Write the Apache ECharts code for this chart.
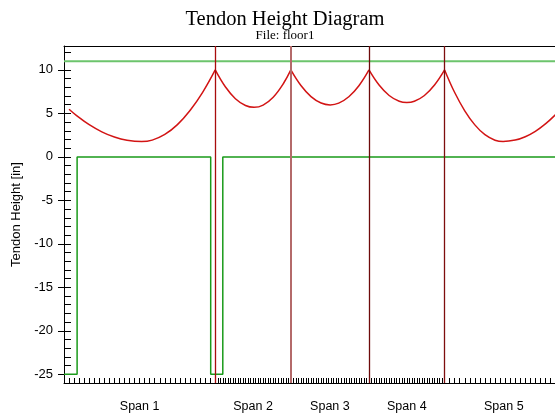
<!DOCTYPE html>
<html>
<head>
<meta charset="utf-8">
<title>Tendon Height Diagram</title>
<script src="https://cdn.jsdelivr.net/npm/echarts@6/dist/echarts.min.js"></script>
<style>
html, body { margin: 0; padding: 0; background: #fff; }
#tendon_chart_content { width: 555px; height: 415px; }
</style>
</head>
<body>
<div id="tendon_chart_content"></div>
<script>
// span ends along the slab [ft]; the plot is cut at x_view_max
var span_ends = [30, 45, 60.5, 75.5, 99];
var span_names = ["Span 1", "Span 2", "Span 3", "Span 4", "Span 5"];
var tick_steps = [1, 0.5, 0.5, 0.5, 1];
var x_view_max = 97.4;
var y_ticks = [-25, -20, -15, -10, -5, 0, 5, 10];

// tendon profile [ft, in]
var tendon_x = [1, 2.5, 5, 7.5, 10, 12.5, 15.4, 17.5, 20, 22.5, 25, 27.5, 30,
    32, 34, 36, 37.7, 39.5, 41.5, 43.5, 45,
    47, 49, 51, 52.8, 54.5, 56.5, 58.5, 60.5,
    62.5, 64.5, 66.5, 68, 69.5, 71.5, 73.5, 75.5,
    77.5, 79.5, 81.5, 83.5, 85.5, 87.1, 89.5, 91.5, 93.5, 95.5, 97.5, 98];
var tendon_y = [5.48, 4.75, 3.70, 2.88, 2.28, 1.91, 1.76, 1.93, 2.58, 3.71, 5.33, 7.42, 10,
    8.06, 6.69, 5.91, 5.70, 5.96, 6.86, 8.41, 10,
    8.20, 6.93, 6.19, 5.98, 6.18, 6.91, 8.18, 10,
    8.26, 7.06, 6.39, 6.24, 6.39, 7.06, 8.26, 10,
    7.40, 5.30, 3.68, 2.55, 1.92, 1.76, 1.93, 2.32, 2.94, 3.79, 4.86, 5.20];

// top and bottom limit lines
var top_x = [0, 99];
var top_y = [11, 11];
var bottom_x = [0, 2.6, 2.6, 29.1, 29.1, 31.5, 31.5, 99];
var bottom_y = [-25, -25, 0, 0, -25, -25, 0, 0];

var support_colors = ["#a80c0c", "#b46a6a", "#6e0a0a", "#7e0e0e"];
var sans = "Liberation Sans, Arial, sans-serif";
var serif = "Liberation Serif, Times New Roman, serif";

function pairs(xs, ys){
    var out = [];
    for(var i = 0; i < xs.length; i++){
        out.push([xs[i], ys[i]]);
    }
    return out;
}

// x ticks: different density per span
var x_ticks = [0];
var span_centers = [];
var start = 0;
for(var s = 0; s < span_ends.length; s++){
    var end = span_ends[s];
    for(var t = start + tick_steps[s]; t <= end + 1e-9; t += tick_steps[s]){
        var tv = Math.round(t * 100) / 100;
        if(tv < x_view_max) x_ticks.push(tv);
    }
    span_centers.push((start + end) / 2);
    start = end;
}
var y_minor = [];
for(var v = -26; v <= 12; v++){
    y_minor.push(v);
}

var series = [];
start = 0;
for(var s = 0; s < span_ends.length; s++){
    var seg = [];
    for(var i = 0; i < tendon_x.length; i++){
        if(tendon_x[i] >= start && tendon_x[i] <= span_ends[s]){
            seg.push([tendon_x[i], tendon_y[i]]);
        }
    }
    series.push({
        type: 'line',
        data: seg,
        smooth: 0.4,
        showSymbol: false,
        lineStyle: { color: '#d21414', width: 1.5 },
        z: 4
    });
    start = span_ends[s];
}
series.push({
    type: 'line',
    data: pairs(top_x, top_y),
    showSymbol: false,
    lineStyle: { color: '#6cc46c', width: 2 },
    z: 3
});
series.push({
    type: 'line',
    data: pairs(bottom_x, bottom_y),
    showSymbol: false,
    lineStyle: { color: '#1a9a1a', width: 1.5 },
    z: 3
});
// support lines
var support_lines = [];
for(var s = 0; s < span_ends.length - 1; s++){
    support_lines.push({
        xAxis: span_ends[s],
        lineStyle: { color: support_colors[s], width: s == 1 ? 2 : 1.3, type: 'solid' }
    });
}
series.push({
    type: 'line',
    data: [],
    markLine: {
        silent: true,
        symbol: 'none',
        label: { show: false },
        data: support_lines
    },
    z: 5
});

var chart = echarts.init(document.getElementById("tendon_chart_content"));
var option = {
    animation: false,
    backgroundColor: '#fff',
    title: [
        {
            text: 'Tendon Height Diagram',
            left: 280,
            top: 4,
            textAlign: 'center',
            textStyle: { fontFamily: serif, fontSize: 20.5, fontWeight: 'normal', color: '#000' }
        },
        {
            text: 'File: floor1',
            left: 280,
            top: 24,
            textAlign: 'center',
            textStyle: { fontFamily: serif, fontSize: 13, fontWeight: 'normal', color: '#000' }
        }
    ],
    grid: {
        left: 64,
        top: 46,
        width: 491,
        height: 337,
        show: false
    },
    xAxis: [
        {
            type: 'value',
            min: 0,
            max: x_view_max,
            axisLine: { onZero: false, lineStyle: { color: '#000', width: 1 } },
            axisTick: { inside: true, length: 5, customValues: x_ticks, lineStyle: { color: '#000' } },
            axisLabel: {
                customValues: span_centers.slice(),
                margin: 17,
                fontFamily: sans,
                fontSize: 12.5,
                color: '#000',
                formatter: function(val){
                    var k = span_centers.indexOf(val);
                    return k >= 0 ? span_names[k] : '';
                }
            },
            splitLine: { show: false }
        },
        {
            // top frame line
            type: 'value',
            position: 'top',
            min: 0,
            max: x_view_max,
            axisLine: { show: true, onZero: false, lineStyle: { color: '#000', width: 1 } },
            axisTick: { show: false },
            axisLabel: { show: false },
            splitLine: { show: false }
        }
    ],
    yAxis: [
        {
            type: 'value',
            min: -26,
            max: 12.75,
            position: 'left',
            name: 'Tendon Height [in]',
            nameLocation: 'middle',
            nameGap: 37,
            nameTextStyle: { fontFamily: sans, fontSize: 13, color: '#000' },
            axisLine: { show: true, onZero: false, lineStyle: { color: '#000', width: 1 } },
            axisTick: { inside: false, length: 6, customValues: y_ticks, lineStyle: { color: '#000' } },
            axisLabel: { customValues: y_ticks, margin: 11, fontFamily: sans, fontSize: 13, color: '#000' },
            splitLine: { show: false }
        },
        {
            type: 'value',
            min: -26,
            max: 12.75,
            position: 'left',
            axisLine: { show: false, onZero: false },
            axisTick: { show: true, inside: true, length: 7, customValues: y_minor, lineStyle: { color: '#000' } },
            axisLabel: { show: false },
            splitLine: { show: false }
        }
    ],
    series: series
};
chart.setOption(option, true);
</script>
</body>
</html>
